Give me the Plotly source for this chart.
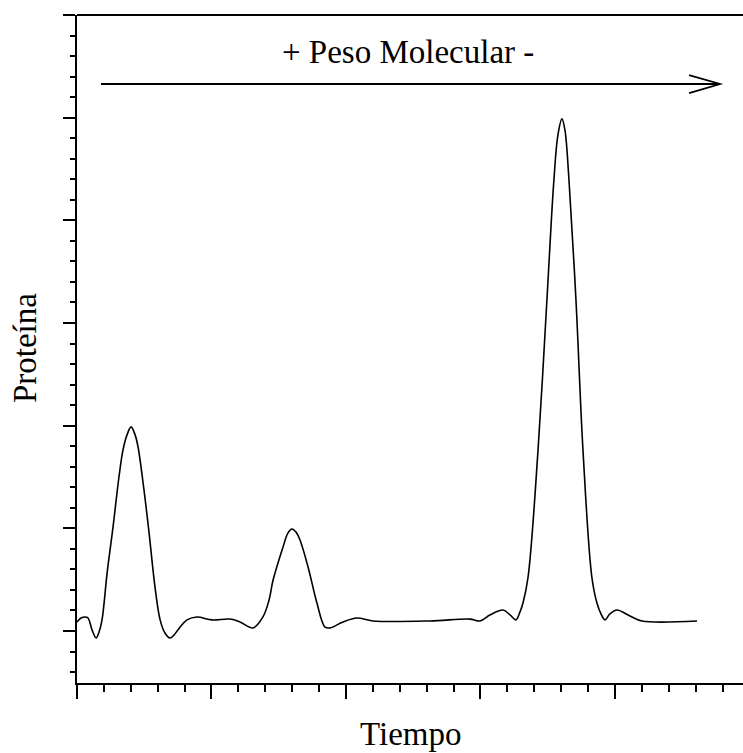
import plotly.graph_objects as go

# Data (time units = minor x ticks, protein units = minor y ticks)
tiempo = [0.00, 0.15, 0.30, 0.41, 0.56, 0.71, 0.82, 0.93, 1.12, 1.34, 1.56, 1.71, 1.86, 2.01,
          2.16, 2.27, 2.49, 2.68, 2.90, 3.09, 3.27, 3.46, 3.61, 3.75, 4.09, 4.46, 5.02, 5.69,
          6.06, 6.54, 6.91, 7.14, 7.29, 7.66, 7.84, 7.99, 8.14, 8.29, 8.59, 8.92, 9.22, 9.41,
          9.89, 10.41, 11.00, 13.12, 14.61, 14.98, 15.35, 15.84, 16.10, 16.32, 16.47, 16.58,
          16.77, 17.14, 17.47, 17.73, 17.88, 18.03, 18.14, 18.29, 18.55, 18.81, 19.14, 19.33,
          19.48, 19.63, 19.81, 20.07, 20.56, 21.00, 23.05]
proteina = [0.44, 0.63, 0.68, 0.63, 0.05, -0.34, -0.05, 0.54, 2.83, 5.07, 7.50, 8.82, 9.55, 9.94,
            9.55, 8.96, 6.87, 4.77, 2.14, 0.54, -0.10, -0.34, -0.19, 0.05, 0.54, 0.68, 0.54, 0.58,
            0.44, 0.15, 0.68, 1.51, 2.48, 4.09, 4.77, 4.97, 4.82, 4.43, 3.12, 1.36, 0.19, 0.15,
            0.44, 0.63, 0.49, 0.49, 0.58, 0.49, 0.78, 1.02, 0.78, 0.54, 0.93, 1.36,
            2.63, 8.82, 16.12, 21.97, 24.16, 24.94, 24.40, 21.97, 16.12, 8.82, 2.63, 1.36,
            0.83, 0.54, 0.83, 1.02, 0.73, 0.49, 0.49]

x_range = [0, 24.76]
y_range = [-2.533, 30]

title_text = "+ Peso Molecular -"
x_label = "Tiempo"
y_label = "Proteína"

FONT = "Liberation Serif"

fig = go.Figure()
fig.add_trace(go.Scatter(x=tiempo, y=proteina, mode="lines",
                         line=dict(color="black", width=1.6, shape="spline", smoothing=1.0),
                         hoverinfo="skip", showlegend=False))

axis_common = dict(showgrid=False, zeroline=False, showticklabels=False,
                   showline=True, linecolor="black", linewidth=2,
                   ticks="outside", tickcolor="black", tickwidth=1.5)

fig.update_xaxes(range=x_range, tick0=0, dtick=5, ticklen=14,
                 minor=dict(dtick=1, tick0=0, ticklen=7, ticks="outside", tickcolor="black",
                            tickwidth=1.5, showgrid=False),
                 **axis_common)
fig.update_yaxes(range=y_range, tick0=0, dtick=5, ticklen=12,
                 minor=dict(dtick=1, tick0=0, ticklen=5, ticks="outside", tickcolor="black",
                            tickwidth=1.5, showgrid=False),
                 **axis_common)

# top frame line
fig.add_shape(type="line", xref="paper", yref="paper", x0=0, x1=1, y0=1, y1=1,
              line=dict(color="black", width=2))
# arrow with open head
fig.add_shape(type="path", xref="paper", yref="paper",
              path="M 0.036 0.8967 L 0.9655 0.8967 M 0.919 0.910 L 0.9655 0.8967 L 0.919 0.883",
              line=dict(color="black", width=1.8))

fig.add_annotation(text=title_text, xref="paper", yref="paper", x=0.4977, y=0.9446,
                   showarrow=False, font=dict(family=FONT, size=33, color="black"),
                   xanchor="center", yanchor="middle")
fig.add_annotation(text=x_label, xref="paper", yref="paper", x=0.5, y=-0.0763,
                   showarrow=False, font=dict(family=FONT, size=33, color="black"),
                   xanchor="center", yanchor="middle")
fig.add_annotation(text=y_label, xref="paper", yref="paper", x=-0.078, y=0.5015,
                   showarrow=False, textangle=-90, font=dict(family=FONT, size=33, color="black"),
                   xanchor="center", yanchor="middle")

fig.update_layout(width=743, height=753, margin=dict(l=77, r=0, t=15, b=70),
                  paper_bgcolor="white", plot_bgcolor="white")

fig.write_html("out.html")
